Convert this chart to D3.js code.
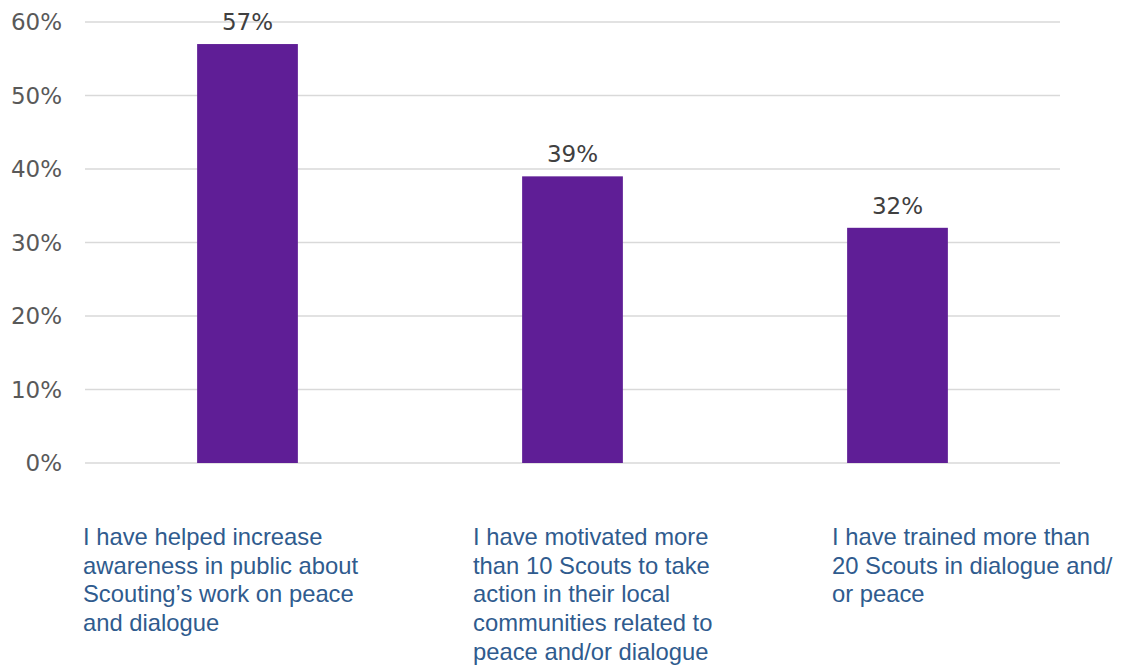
<!DOCTYPE html>
<html>
<head>
<meta charset="utf-8">
<script src="https://cdn.jsdelivr.net/npm/d3@7"></script>
<style>
  html, body { margin: 0; padding: 0; background: #ffffff; }
  svg { display: block; }
</style>
</head>
<body>
<svg id="chart" width="1126" height="666"></svg>
<script>
// Survey statements (each entry is the wrapped lines of one label)
const categories = [
  ["I have helped increase", "awareness in public about", "Scouting\u2019s work on peace", "and dialogue"],
  ["I have motivated more", "than 10 Scouts to take", "action in their local", "communities related to", "peace and/or dialogue"],
  ["I have trained more than", "20 Scouts in dialogue and/", "or peace"]
];
// Share of respondents, in percent
const values = [57, 39, 32];
const tickValues = [0, 10, 20, 30, 40, 50, 60];

const svg = d3.select("#chart");
const W = 1126, H = 666;
const margin = { top: 22, right: 66, bottom: 203, left: 85 };
const plotW = W - margin.left - margin.right;
const plotH = H - margin.top - margin.bottom;

const g = svg.append("g").attr("transform", `translate(${margin.left},${margin.top})`);

const x = d3.scaleBand()
  .domain(d3.range(values.length))
  .range([0, plotW])
  .paddingInner(0.69)
  .paddingOuter(0.345);

const y = d3.scaleLinear().domain([0, 60]).range([plotH, 0]);

// Horizontal gridlines
g.append("g")
  .selectAll("line")
  .data(tickValues)
  .join("line")
  .attr("x1", 0)
  .attr("x2", plotW)
  .attr("y1", d => y(d))
  .attr("y2", d => y(d))
  .attr("stroke", "#d9d9d9")
  .attr("stroke-width", 1.5);

// Y axis tick labels
const yAxis = d3.axisLeft(y)
  .tickValues(tickValues)
  .tickFormat(d => d + "%")
  .tickSize(0)
  .tickPadding(23);
const yg = g.append("g").call(yAxis);
yg.select(".domain").remove();
yg.selectAll("text")
  .attr("font-family", "'DejaVu Sans', Verdana, sans-serif")
  .attr("font-size", 23)
  .attr("fill", "#595959")
  .attr("dy", "0.34em");

// Bars
g.selectAll("rect.bar")
  .data(values)
  .join("rect")
  .attr("class", "bar")
  .attr("x", (d, i) => x(i))
  .attr("width", x.bandwidth())
  .attr("y", d => y(d))
  .attr("height", d => plotH - y(d))
  .attr("fill", "#5f1e96");

// Value labels above bars
g.selectAll("text.value")
  .data(values)
  .join("text")
  .attr("class", "value")
  .attr("x", (d, i) => x(i) + x.bandwidth() / 2)
  .attr("y", d => y(d) - 14)
  .attr("text-anchor", "middle")
  .attr("font-family", "'DejaVu Sans', Verdana, sans-serif")
  .attr("font-size", 23)
  .attr("fill", "#404040")
  .text(d => d + "%");

// Category labels below the plot, left-aligned text blocks
const labelLeft = [83, 473, 832];
const labelTop = 545;
const lineGap = 28.7;
const labels = svg.append("g");
categories.forEach((lines, i) => {
  const t = labels.append("text")
    .attr("x", labelLeft[i])
    .attr("y", labelTop)
    .attr("font-family", "'Liberation Sans', Arial, sans-serif")
    .attr("font-size", 23.8)
    .attr("fill", "#2f5b8e");
  t.selectAll("tspan")
    .data(lines)
    .join("tspan")
    .attr("x", labelLeft[i])
    .attr("y", (d, j) => labelTop + j * lineGap)
    .text(d => d);
});
</script>
</body>
</html>
